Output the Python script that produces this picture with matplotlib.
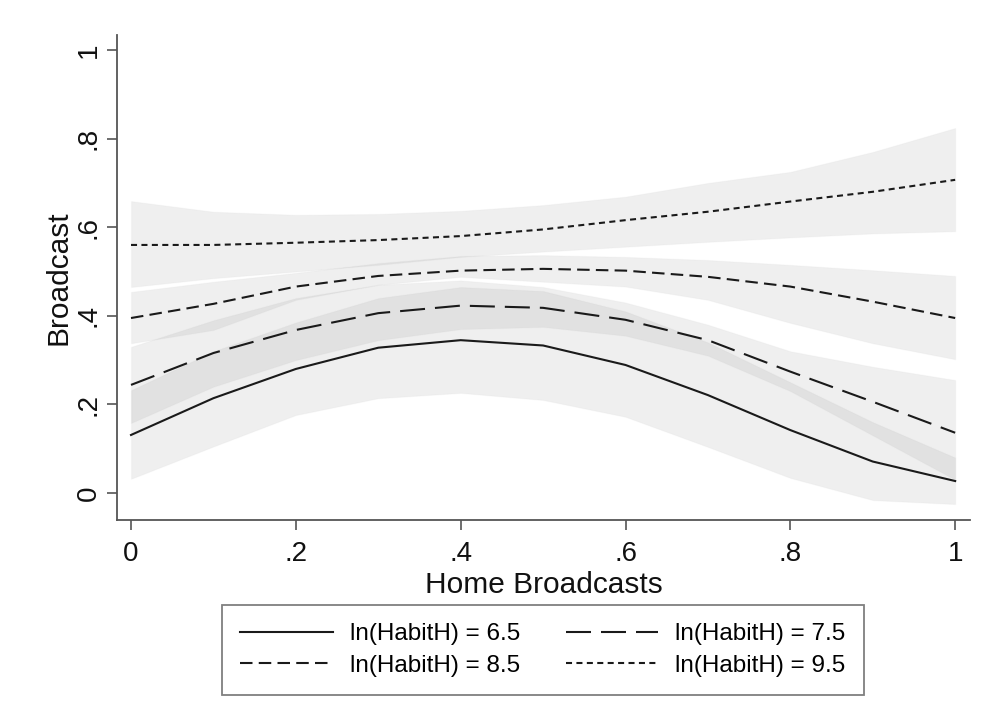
import matplotlib
matplotlib.use("Agg")
import matplotlib.pyplot as plt
import numpy as np

plt.rcParams['font.family'] = ['Liberation Sans', 'DejaVu Sans']

# margins at Home Broadcasts = 0, .1, ..., 1
home = [0.0, 0.1, 0.2, 0.3, 0.4, 0.5, 0.6, 0.7, 0.8, 0.9, 1.0]

fit_65 = [0.131, 0.214, 0.280, 0.328, 0.345, 0.333, 0.289, 0.221, 0.142, 0.071, 0.027]
lo_65 = [0.032, 0.105, 0.176, 0.214, 0.226, 0.210, 0.172, 0.104, 0.034, -0.016, -0.025]
hi_65 = [0.232, 0.320, 0.385, 0.440, 0.465, 0.456, 0.410, 0.340, 0.250, 0.160, 0.080]

fit_75 = [0.244, 0.316, 0.368, 0.406, 0.423, 0.418, 0.391, 0.345, 0.274, 0.206, 0.136]
lo_75 = [0.158, 0.240, 0.300, 0.345, 0.370, 0.375, 0.355, 0.310, 0.230, 0.130, 0.030]
hi_75 = [0.330, 0.390, 0.440, 0.470, 0.480, 0.465, 0.430, 0.380, 0.320, 0.285, 0.255]

fit_85 = [0.395, 0.427, 0.466, 0.490, 0.502, 0.506, 0.502, 0.488, 0.466, 0.432, 0.395]
lo_85 = [0.338, 0.368, 0.436, 0.470, 0.488, 0.477, 0.466, 0.436, 0.384, 0.338, 0.302]
hi_85 = [0.454, 0.477, 0.497, 0.519, 0.535, 0.537, 0.533, 0.526, 0.515, 0.503, 0.490]

fit_95 = [0.560, 0.560, 0.565, 0.571, 0.580, 0.595, 0.616, 0.635, 0.658, 0.680, 0.707]
lo_95 = [0.465, 0.485, 0.500, 0.515, 0.533, 0.545, 0.556, 0.567, 0.577, 0.586, 0.591]
hi_95 = [0.659, 0.635, 0.628, 0.630, 0.637, 0.650, 0.669, 0.700, 0.725, 0.770, 0.824]

labels = ['ln(HabitH) = 6.5', 'ln(HabitH) = 7.5', 'ln(HabitH) = 8.5', 'ln(HabitH) = 9.5']
xticks = [0, 0.2, 0.4, 0.6, 0.8, 1]
xticklabels = ['0', '.2', '.4', '.6', '.8', '1']
yticks = [0, 0.2, 0.4, 0.6, 0.8, 1]
yticklabels = ['0', '.2', '.4', '.6', '.8', '1']

fig = plt.figure(figsize=(9.84, 7.17), dpi=100)
ax = fig.add_axes([117 / 984, 1 - 520 / 717, (970 - 117) / 984, (520 - 35) / 717])

# confidence bands first, lines on top
for lo, hi in [(lo_65, hi_65), (lo_75, hi_75), (lo_85, hi_85), (lo_95, hi_95)]:
    ax.fill_between(home, lo, hi, facecolor='#696969', alpha=0.1,
                    edgecolor='#c8c8c8', linewidth=0.8, zorder=1)

lw = 1.5
styles = ['-', (0, (12, 4.8)), (0, (6.0, 3.0)), (0, (2.9, 2.1))]
fits = [fit_65, fit_75, fit_85, fit_95]
handles = []
for fit, ls, lab in zip(fits, styles, labels):
    h, = ax.plot(home, fit, color='#1a1a1a', lw=lw, linestyle=ls, label=lab, zorder=3)
    handles.append(h)

ax.set_xlim(-0.017, 1.018)
ax.set_ylim(-0.061, 1.034)
ax.set_xticks(xticks)
ax.set_xticklabels(xticklabels)
ax.set_yticks(yticks)
ax.set_yticklabels(yticklabels, rotation=90, va='center')

for s in ['top', 'right']:
    ax.spines[s].set_visible(False)
for s in ['left', 'bottom']:
    ax.spines[s].set_color('#555555')
    ax.spines[s].set_linewidth(1.3)

ax.tick_params(axis='both', labelsize=20, length=7, width=1.2, color='#555555',
               labelcolor='#111111')
ax.tick_params(axis='x', pad=8)
ax.tick_params(axis='y', pad=4)

ax.set_xlabel('Home Broadcasts', fontsize=21.5, color='#111111', labelpad=3)
ax.set_ylabel('Broadcast', fontsize=21.5, color='#111111', labelpad=2)

# legend order: row-wise 6.5, 7.5 / 8.5, 9.5 with ncol=2 -> column-major order
order = [0, 2, 1, 3]
leg = fig.legend([handles[i] for i in order], [labels[i] for i in order],
                 loc='upper center', bbox_to_anchor=(543 / 984, 1 - 605 / 717),
                 ncol=2, fontsize=17.5, frameon=True, fancybox=False,
                 edgecolor='#606060', handlelength=3.8, handletextpad=0.7,
                 columnspacing=1.9, borderpad=0.75, labelspacing=0.4,
                 borderaxespad=0)
leg.get_frame().set_linewidth(1.3)

fig.savefig('out.png', dpi=100)
